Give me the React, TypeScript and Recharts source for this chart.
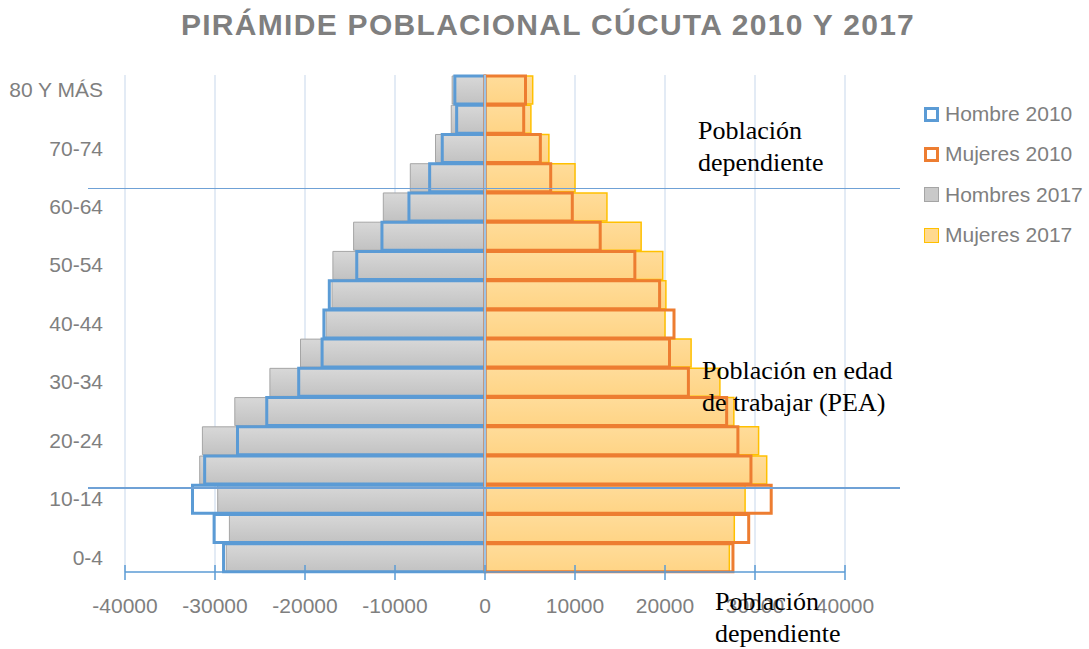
import React from 'react';
import {
  BarChart,
  Bar,
  XAxis,
  YAxis,
  CartesianGrid,
  ReferenceLine,
} from 'recharts';

// age groups, youngest first
const edades = [
  '0-4', '5-9', '10-14', '15-19', '20-24', '25-29', '30-34', '35-39', '40-44',
  '45-49', '50-54', '55-59', '60-64', '65-69', '70-74', '75-79', '80 Y MÁS',
];

// men as negative values so they go to the left
const hombre2010 = [
  -29050, -30100, -32500, -31150, -27500, -24250, -20700, -18100, -17900,
  -17300, -14250, -11450, -8450, -6150, -4750, -3150, -3350,
];
const mujeres2010 = [
  27550, 29300, 31800, 29550, 28100, 26850, 22600, 20500, 21000,
  19400, 16650, 12800, 9700, 7300, 6150, 4300, 4500,
];
const hombres2017 = [
  -28750, -28400, -29700, -31700, -31400, -27800, -23900, -20500, -17650,
  -17000, -16900, -14600, -11300, -8300, -5500, -3750, -3650,
];
const mujeres2017 = [
  27150, 27700, 28900, 31300, 30400, 27650, 26100, 22900, 20000,
  20100, 19750, 17350, 13550, 10000, 7100, 5100, 5300,
];

const xTicks = [-40000, -30000, -20000, -10000, 0, 10000, 20000, 30000, 40000];

const data = edades.map((edad, i) => ({
  edad,
  h2010: hombre2010[i],
  m2010: mujeres2010[i],
  h2017: hombres2017[i],
  m2017: mujeres2017[i],
}));

const AXIS_BLUE = '#5b9bd5';
const TEXT_GRAY = '#7f7f7f';

const legendItems = [
  { name: 'Hombre 2010', fill: '#ffffff', stroke: '#5b9bd5', width: 3 },
  { name: 'Mujeres 2010', fill: '#ffffff', stroke: '#ed7d31', width: 3 },
  { name: 'Hombres 2017', fill: '#c9c9c9', stroke: '#a5a5a5', width: 1 },
  { name: 'Mujeres 2017', fill: '#ffd98f', stroke: '#ffc000', width: 1.5 },
];

// tick mark crosses the axis line, label below
const XTick = (props: any) => {
  const { x, y, payload } = props;
  return (
    <g>
      <line x1={x} x2={x} y1={y - 7} y2={y + 8} stroke={AXIS_BLUE} strokeWidth={1.5} />
      <text x={x} y={y + 34} dy="0.35em" textAnchor="middle" fill={TEXT_GRAY} fontSize={21}>
        {payload.value}
      </text>
    </g>
  );
};

const LegendBox = () => (
  <div style={{ position: 'absolute', left: 922, top: 94 }}>
    {legendItems.map((it) => (
      <div key={it.name} style={{ height: 40.3, display: 'flex', alignItems: 'center' }}>
        <span
          style={{
            display: 'inline-block',
            boxSizing: 'border-box',
            width: 15,
            height: 15,
            background: it.fill,
            border: `${it.width}px solid ${it.stroke}`,
            marginLeft: 2,
            marginRight: 6,
          }}
        />
        <span style={{ fontSize: 21, color: TEXT_GRAY, whiteSpace: 'nowrap' }}>{it.name}</span>
      </div>
    ))}
  </div>
);

const note: React.CSSProperties = {
  position: 'absolute',
  fontFamily: '"Liberation Serif", "Times New Roman", serif',
  fontSize: 26,
  lineHeight: '32px',
  color: '#000',
  whiteSpace: 'nowrap',
};

const hline: React.CSSProperties = {
  position: 'absolute',
  left: 88,
  width: 812,
  height: 1.5,
  background: '#6fa1d6',
};

export default function App() {
  return (
    <div
      style={{
        position: 'absolute',
        left: 0,
        top: 0,
        width: 1089,
        height: 649,
        overflow: 'hidden',
        background: '#fff',
        fontFamily: '"Liberation Sans", Arial, sans-serif',
      }}
    >
      <div
        style={{
          position: 'absolute',
          left: 0,
          top: 10,
          width: 1096,
          textAlign: 'center',
          fontSize: 30,
          lineHeight: '30px',
          fontWeight: 'bold',
          letterSpacing: 1.3,
          color: TEXT_GRAY,
        }}
      >
        PIRÁMIDE POBLACIONAL CÚCUTA 2010 Y 2017
      </div>

      <BarChart
        width={1089}
        height={649}
        data={data}
        layout="vertical"
        margin={{ top: 75, right: 244, bottom: 37, left: 15 }}
        barSize={28}
        barGap={-28}
        barCategoryGap={0}
      >
        <defs>
          <linearGradient id="gris" x1="0" y1="0" x2="0" y2="1">
            <stop offset="0%" stopColor="#d8d8d8" />
            <stop offset="100%" stopColor="#c2c2c2" />
          </linearGradient>
          <linearGradient id="amarillo" x1="0" y1="0" x2="0" y2="1">
            <stop offset="0%" stopColor="#ffdc9a" />
            <stop offset="100%" stopColor="#ffd485" />
          </linearGradient>
        </defs>
        <CartesianGrid horizontal={false} stroke="#dae5f2" strokeWidth={1.5} />
        <XAxis
          type="number"
          domain={[-40000, 40000]}
          ticks={xTicks}
          interval={0}
          height={40}
          tickSize={0}
          tickMargin={0}
          tickLine={false}
          axisLine={{ stroke: AXIS_BLUE, strokeWidth: 1.5 }}
          tick={<XTick />}
        />
        <YAxis
          type="category"
          dataKey="edad"
          reversed
          width={110}
          interval={1}
          axisLine={false}
          tickLine={false}
          tickSize={0}
          tickMargin={22}
          tick={{ fill: TEXT_GRAY, fontSize: 21 }}
        />
        <Bar dataKey="h2017" name="Hombres 2017" fill="url(#gris)" stroke="#a5a5a5" strokeWidth={1} isAnimationActive={false} />
        <Bar dataKey="m2017" name="Mujeres 2017" fill="url(#amarillo)" stroke="#ffc000" strokeWidth={1.5} isAnimationActive={false} />
        <Bar dataKey="h2010" name="Hombre 2010" fill="none" stroke="#5b9bd5" strokeWidth={3} isAnimationActive={false} />
        <Bar dataKey="m2010" name="Mujeres 2010" fill="none" stroke="#ed7d31" strokeWidth={3} isAnimationActive={false} />
        <ReferenceLine x={0} stroke="#9dc3e6" strokeWidth={2} />
      </BarChart>

      <LegendBox />

      <div style={{ ...hline, top: 187.5 }} />
      <div style={{ ...hline, top: 487.3 }} />

      <div style={{ ...note, left: 698, top: 115 }}>
        Población
        <br />
        dependiente
      </div>
      <div style={{ ...note, left: 702, top: 355 }}>
        Población en edad
        <br />
        de trabajar (PEA)
      </div>
      <div style={{ ...note, left: 715, top: 586 }}>
        Población
        <br />
        dependiente
      </div>
    </div>
  );
}
